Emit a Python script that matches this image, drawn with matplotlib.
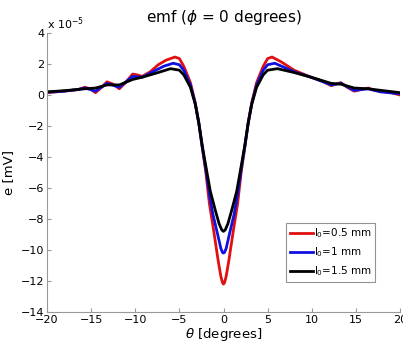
import matplotlib
matplotlib.use('Agg')
import matplotlib.pyplot as plt
import numpy as np

# values in units of 1e-5 mV
theta_red = [-20, -18, -16.5, -15.7, -15.1, -14.5, -13.8, -13.2, -12.5, -11.8, -11.1, -10.3,
             -9.8, -9.2, -8.3, -7.4, -6.5, -5.5, -5.0, -4.5, -3.75, -3.2, -2.8, -2.4, -2.0,
             -1.6, -1.1, -0.6, -0.3, -0.12, 0.0, 0.12, 0.3, 0.6, 1.1, 1.6, 2.0, 2.4, 2.8, 3.2, 3.75,
             4.5, 5.0, 5.5, 6.5, 8.0, 9.9, 11.2, 12.2, 13.3, 14.0, 14.8, 15.6, 16.4, 17.1,
             17.8, 19.0, 20]
e_red = [0.15, 0.25, 0.35, 0.5, 0.4, 0.15, 0.5, 0.85, 0.7, 0.4, 0.8, 1.35,
         1.3, 1.2, 1.5, 1.95, 2.25, 2.45, 2.35, 1.85, 0.8, -0.5, -1.8, -3.4, -5.0,
         -7.0, -8.8, -10.7, -11.7, -12.1, -12.2, -12.1, -11.7, -10.7, -8.8, -7.0, -5.0, -3.4, -1.8, -0.5, 0.8,
         1.85, 2.35, 2.45, 2.15, 1.6, 1.15, 0.9, 0.6, 0.8, 0.5, 0.25, 0.35, 0.45, 0.3,
         0.25, 0.15, 0.0]

theta_blue = [-20, -18, -16.5, -15.7, -14.5, -13.2, -11.8, -10.3, -9.2, -8.0, -6.8, -5.7,
              -5.0, -4.5, -3.75, -3.2, -2.8, -2.4, -2.0, -1.6, -1.2, -0.7, -0.3, -0.12, 0.0,
              0.12, 0.3, 0.7, 1.2, 1.6, 2.0, 2.4, 2.8, 3.2, 3.75, 4.5, 5.0, 5.8, 6.8, 8.0,
              9.9, 12.2, 13.3, 14.8, 16.4, 17.8, 20]
e_blue = [0.18, 0.25, 0.35, 0.45, 0.25, 0.75, 0.5, 1.2, 1.15, 1.5, 1.85, 2.05,
          1.95, 1.6, 0.65, -0.55, -1.8, -3.4, -4.8, -6.4, -7.7, -8.9, -9.9, -10.15, -10.2,
          -10.15, -9.9, -8.9, -7.7, -6.4, -4.8, -3.4, -1.8, -0.55, 0.65, 1.6, 1.95, 2.05, 1.8, 1.5,
          1.15, 0.65, 0.75, 0.3, 0.4, 0.2, 0.08]

theta_black = [-20, -18, -15.7, -14.5, -13.2, -11.8, -10.3, -9.2, -7.4, -6.0, -5.0, -4.5,
               -3.75, -3.2, -2.8, -2.4, -2.0, -1.5, -0.9, -0.5, -0.2, 0.0, 0.2, 0.5, 0.9, 1.5,
               2.0, 2.4, 2.8, 3.2, 3.75, 4.5, 5.0, 6.1, 8.0, 9.9, 12.2, 13.3, 14.8,
               16.4, 17.8, 20]
e_black = [0.2, 0.28, 0.4, 0.45, 0.65, 0.65, 1.0, 1.15, 1.45, 1.7, 1.6, 1.3,
           0.5, -0.6, -1.8, -3.3, -4.6, -6.2, -7.5, -8.3, -8.7, -8.8, -8.7, -8.3, -7.5, -6.2,
           -4.6, -3.3, -1.8, -0.6, 0.5, 1.3, 1.6, 1.7, 1.45, 1.15, 0.75, 0.7, 0.45,
           0.4, 0.3, 0.15]

labels = ['l$_0$=0.5 mm', 'l$_0$=1 mm', 'l$_0$=1.5 mm']
colors = ['#e01010', '#1010e0', 'black']

fig = plt.figure(figsize=(4.03, 3.43), dpi=100)
ax = fig.add_axes([0.1166, 0.0904, 0.876, 0.8134])

ax.plot(theta_red, e_red, color=colors[0], lw=2, label=labels[0])
ax.plot(theta_blue, e_blue, color=colors[1], lw=2, label=labels[1])
ax.plot(theta_black, e_black, color=colors[2], lw=2, label=labels[2])

ax.set_xlim(-20, 20)
ax.set_ylim(-14, 4)
ax.set_xticks(np.arange(-20, 21, 5))
ax.set_yticks(np.arange(-14, 5, 2))
ax.tick_params(direction='in', labelsize=8, length=3, color='#999999', pad=2)
for s in ['top', 'right']:
    ax.spines[s].set_visible(False)
for s in ['left', 'bottom']:
    ax.spines[s].set_color('#999999')

ax.text(0.0, 1.005, 'x 10$^{-5}$', transform=ax.transAxes, fontsize=8, va='bottom', ha='left')
ax.set_title('emf ($\\phi$ = 0 degrees)', fontsize=11, pad=8)
ax.set_xlabel('$\\theta$ [degrees]', fontsize=9.5, labelpad=1)
ax.set_ylabel('e [mV]', fontsize=9.5, labelpad=4)

leg = ax.legend(loc='lower right', bbox_to_anchor=(0.935, 0.1), fontsize=7.5, frameon=True,
                fancybox=False, handlelength=2.2, handletextpad=0.1, borderpad=0.35,
                labelspacing=0.5, borderaxespad=0.2)
leg.get_frame().set_edgecolor('#777777')
leg.get_frame().set_linewidth(0.8)

fig.savefig('out.png', dpi=100)
